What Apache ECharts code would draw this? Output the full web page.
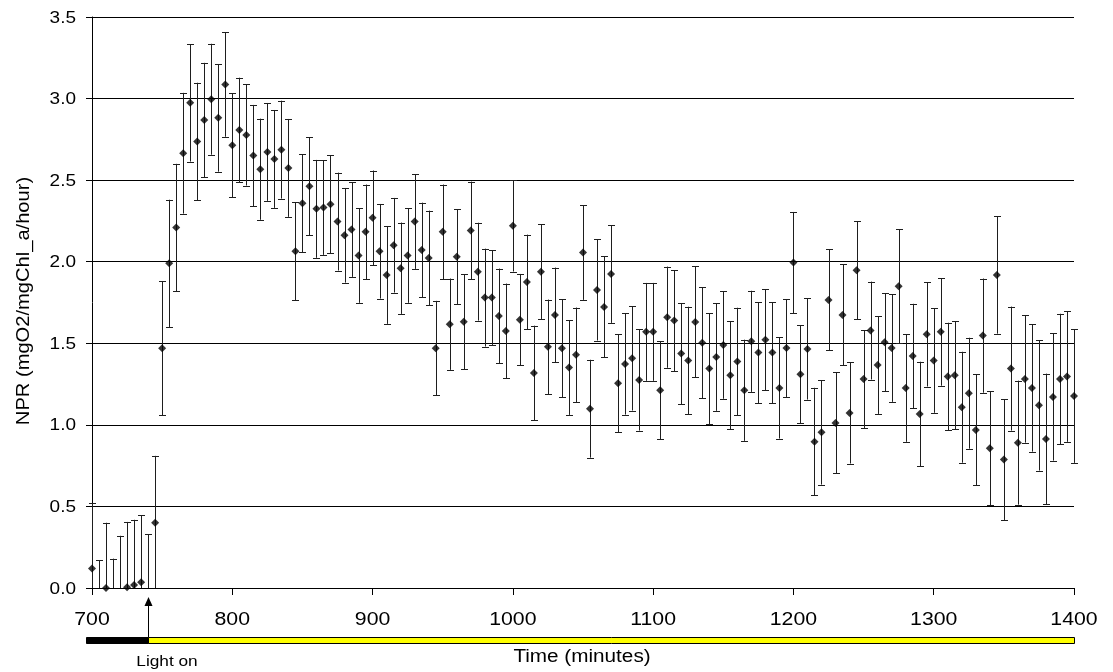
<!DOCTYPE html>
<html>
<head>
<meta charset="utf-8">
<title>NPR over time</title>
<script src="https://cdn.jsdelivr.net/npm/echarts@6/dist/echarts.min.js"></script>
<style>
  html, body { margin: 0; padding: 0; background: #fff; }
  #chart { width: 1113px; height: 672px; }
</style>
</head>
<body>
<div id="chart"></div>
<script>
// Sampling times (minutes), every 5 minutes
const minutes = [
  700, 705, 710, 715, 720, 725, 730, 735, 740, 745,
  750, 755, 760, 765, 770, 775, 780, 785, 790, 795,
  800, 805, 810, 815, 820, 825, 830, 835, 840, 845,
  850, 855, 860, 865, 870, 875, 880, 885, 890, 895,
  900, 905, 910, 915, 920, 925, 930, 935, 940, 945,
  950, 955, 960, 965, 970, 975, 980, 985, 990, 995,
  1000, 1005, 1010, 1015, 1020, 1025, 1030, 1035, 1040, 1045,
  1050, 1055, 1060, 1065, 1070, 1075, 1080, 1085, 1090, 1095,
  1100, 1105, 1110, 1115, 1120, 1125, 1130, 1135, 1140, 1145,
  1150, 1155, 1160, 1165, 1170, 1175, 1180, 1185, 1190, 1195,
  1200, 1205, 1210, 1215, 1220, 1225, 1230, 1235, 1240, 1245,
  1250, 1255, 1260, 1265, 1270, 1275, 1280, 1285, 1290, 1295,
  1300, 1305, 1310, 1315, 1320, 1325, 1330, 1335, 1340, 1345,
  1350, 1355, 1360, 1365, 1370, 1375, 1380, 1385, 1390, 1395,
  1400
];

// Net production rate (mgO2/mgChl_a/hour)
const npr = [
  0.12, -0.22, 0.00, -0.20, -0.08, 0.005, 0.018, 0.035, -0.07, 0.40,
  1.47, 1.99, 2.21, 2.665, 2.974, 2.737, 2.869, 2.996, 2.882, 3.086,
  2.714, 2.808, 2.777, 2.651, 2.567, 2.673, 2.630, 2.687, 2.575, 2.064,
  2.359, 2.463, 2.324, 2.332, 2.352, 2.246, 2.162, 2.197, 2.038, 2.183,
  2.269, 2.064, 1.919, 2.101, 1.960, 2.038, 2.246, 2.072, 2.023, 1.470,
  2.183, 1.617, 2.031, 1.632, 2.191, 1.939, 1.780, 1.780, 1.668, 1.576,
  2.220, 1.645, 1.876, 1.318, 1.939, 1.478, 1.674, 1.470, 1.351, 1.429,
  2.056, 1.099, 1.827, 1.723, 1.925, 1.255, 1.373, 1.408, 1.275, 1.570,
  1.570, 1.212, 1.660, 1.639, 1.437, 1.394, 1.631, 1.504, 1.345, 1.416,
  1.490, 1.304, 1.388, 1.212, 1.512, 1.443, 1.521, 1.443, 1.226, 1.471,
  1.995, 1.310, 1.465, 0.897, 0.954, 1.766, 1.012, 1.674, 1.073, 1.948,
  1.281, 1.578, 1.367, 1.506, 1.471, 1.850, 1.226, 1.422, 1.067, 1.555,
  1.394, 1.570, 1.296, 1.304, 1.108, 1.194, 0.969, 1.547, 0.856, 1.919,
  0.787, 1.345, 0.891, 1.281, 1.226, 1.120, 0.914, 1.171, 1.281, 1.296,
  1.177
];

// Error (+/-) for each measurement
const nprErr = [
  0.40, 0.39, 0.40, 0.38, 0.40, 0.40, 0.40, 0.41, 0.40, 0.41,
  0.41, 0.39, 0.39, 0.37, 0.36, 0.36, 0.35, 0.34, 0.33, 0.32,
  0.32, 0.32, 0.31, 0.31, 0.31, 0.30, 0.30, 0.30, 0.30, 0.30,
  0.30, 0.30, 0.30, 0.29, 0.30, 0.30, 0.29, 0.29, 0.29, 0.29,
  0.29, 0.29, 0.30, 0.29, 0.28, 0.29, 0.29, 0.29, 0.29, 0.29,
  0.29, 0.28, 0.29, 0.29, 0.30, 0.30, 0.30, 0.29, 0.29, 0.29,
  0.28, 0.28, 0.29, 0.29, 0.29, 0.29, 0.29, 0.30, 0.29, 0.29,
  0.29, 0.30, 0.31, 0.31, 0.30, 0.30, 0.31, 0.32, 0.31, 0.30,
  0.30, 0.30, 0.31, 0.31, 0.31, 0.33, 0.34, 0.34, 0.34, 0.33,
  0.33, 0.33, 0.33, 0.31, 0.31, 0.31, 0.31, 0.31, 0.31, 0.30,
  0.31, 0.30, 0.31, 0.33, 0.32, 0.31, 0.31, 0.31, 0.31, 0.30,
  0.30, 0.30, 0.30, 0.30, 0.33, 0.35, 0.33, 0.32, 0.32, 0.32,
  0.32, 0.33, 0.33, 0.33, 0.34, 0.34, 0.34, 0.35, 0.35, 0.36,
  0.37, 0.38, 0.38, 0.39, 0.39, 0.40, 0.40, 0.39, 0.40, 0.40,
  0.41
];

// Axis ticks and their labels
const xTickValues = [700, 800, 900, 1000, 1100, 1200, 1300, 1400];
const xTickLabels = ['700', '800', '900', '1000', '1100', '1200', '1300', '1400'];
const yTickValues = [0, 0.5, 1, 1.5, 2, 2.5, 3, 3.5];
const yTickLabels = ['0.0', '0.5', '1.0', '1.5', '2.0', '2.5', '3.0', '3.5'];
const xAxisTitle = 'Time (minutes)';
const yAxisTitle = 'NPR (mgO2/mgChl_a/hour)';

// Light regime along the time axis (the dark period began before the plotted window)
const phaseNames = ['dark', 'light'];
const phaseStart = [696, 740];
const phaseEnd = [740, 1400];
const lightOnTime = 740;
const lightOnLabel = 'Light on';

const FONT = '"Liberation Sans", Arial, sans-serif';
const WIDE = 1.15;          // horizontal stretch of the lettering
const phaseFill = { dark: '#000000', light: '#ffff00' };

const points = minutes.map((t, i) => [t, npr[i], nprErr[i]]);
const phases = phaseNames.map((n, i) => [phaseStart[i], phaseEnd[i], i]);

function crisp(v) { return Math.round(v) + 0.5; }

function label(x, y, text, size, align, extra) {
  return Object.assign({
    type: 'text', x: x, y: y, scaleX: WIDE, silent: true,
    style: { x: 0, y: 0, text: text, font: size + 'px ' + FONT, fill: '#000', align: align, verticalAlign: 'middle' }
  }, extra || {});
}

const chart = echarts.init(document.getElementById('chart'), null, { renderer: 'canvas' });

chart.setOption({
  animation: false,
  backgroundColor: '#ffffff',
  grid: [
    { left: 92, right: 39, top: 17, bottom: 84, containLabel: false },
    { left: 92, right: 39, top: 637, height: 6, containLabel: false }
  ],
  xAxis: [
    {
      type: 'value', gridIndex: 0,
      min: 700, max: 1400, interval: 100,
      axisLine: { show: true, onZero: false, lineStyle: { color: '#000', width: 1 } },
      axisTick: { show: true, inside: false, length: 7, lineStyle: { color: '#000' } },
      axisLabel: { show: false },
      splitLine: { show: false }
    },
    { type: 'value', gridIndex: 1, min: 700, max: 1400, show: false }
  ],
  yAxis: [
    {
      type: 'value', gridIndex: 0,
      min: 0, max: 3.5, interval: 0.5,
      axisLine: { show: true, lineStyle: { color: '#000', width: 1 } },
      axisTick: { show: true, inside: false, length: 6, lineStyle: { color: '#000' } },
      axisLabel: { show: false },
      splitLine: { show: true, lineStyle: { color: '#000', width: 1 } }
    },
    { type: 'value', gridIndex: 1, min: 0, max: 1, show: false }
  ],
  graphic: [
    label(582, 657, xAxisTitle, 18, 'center'),
    label(24, 301, yAxisTitle, 17.5, 'center', { rotation: Math.PI / 2 })
  ],
  series: [
    {
      // x tick labels placed through the time scale
      type: 'custom',
      xAxisIndex: 0, yAxisIndex: 0,
      data: xTickValues.map((v, i) => [v, 0, i]),
      silent: true,
      renderItem: function (params, api) {
        const p = api.coord([api.value(0), api.value(1)]);
        return label(p[0], p[1] + 32, xTickLabels[api.value(2)], 18.5, 'center');
      }
    },
    {
      // y tick labels placed through the NPR scale
      type: 'custom',
      xAxisIndex: 0, yAxisIndex: 0,
      data: yTickValues.map((v, i) => [700, v, i]),
      silent: true,
      renderItem: function (params, api) {
        const p = api.coord([api.value(0), api.value(1)]);
        return label(p[0] - 16, p[1] + 1, yTickLabels[api.value(2)], 16.5, 'right');
      }
    },
    {
      // vertical error bars with caps
      type: 'custom',
      xAxisIndex: 0, yAxisIndex: 0,
      data: points,
      encode: { x: 0, y: 1 },
      z: 3,
      renderItem: function (params, api) {
        const t = api.value(0), v = api.value(1), e = api.value(2);
        const hi = api.coord([t, v + e]);
        const lo = api.coord([t, v - e]);
        const cs = params.coordSys;
        const top = cs.y, bottom = cs.y + cs.height;
        const x = crisp(hi[0]);
        const style = { stroke: '#1e1e1e', lineWidth: 1 };
        const children = [];
        const y1 = Math.max(hi[1], top), y2 = Math.min(lo[1], bottom);
        if (y1 < y2) {
          children.push({ type: 'line', shape: { x1: x, y1: y1, x2: x, y2: y2 }, style: style });
        }
        [hi[1], lo[1]].forEach(function (yc) {
          if (yc >= top - 0.5 && yc <= bottom + 0.5) {
            const yy = crisp(yc);
            children.push({ type: 'line', shape: { x1: x - 3.5, y1: yy, x2: x + 3.5, y2: yy }, style: style });
          }
        });
        return { type: 'group', children: children };
      }
    },
    {
      type: 'scatter',
      xAxisIndex: 0, yAxisIndex: 0,
      data: points.map(p => [p[0], p[1]]),
      symbol: 'diamond',
      symbolSize: 8,
      clip: true,
      z: 4,
      itemStyle: { color: '#000' }
    },
    {
      // dark / light bar below the time axis
      type: 'custom',
      xAxisIndex: 1, yAxisIndex: 1,
      data: phases,
      z: 2,
      renderItem: function (params, api) {
        const a = api.coord([api.value(0), 1]);
        const b = api.coord([api.value(1), 0]);
        const name = phaseNames[api.value(2)];
        return {
          type: 'rect',
          shape: { x: Math.round(a[0]) + 0.5, y: Math.round(a[1]) + 0.5, width: Math.round(b[0] - a[0]), height: Math.round(b[1] - a[1]) },
          style: { fill: phaseFill[name], stroke: '#000', lineWidth: 1 }
        };
      }
    },
    {
      // arrow and caption marking the moment the light is switched on
      type: 'custom',
      xAxisIndex: 1, yAxisIndex: 1,
      data: [[lightOnTime]],
      z: 5,
      renderItem: function (params, api) {
        const p = api.coord([api.value(0), 1]);
        const base = api.coord([api.value(0), 0]);
        const x = crisp(p[0]);
        const tipY = p[1] - 40;
        return {
          type: 'group',
          children: [
            { type: 'line', shape: { x1: x, y1: p[1], x2: x, y2: tipY + 6 }, style: { stroke: '#000', lineWidth: 1 } },
            { type: 'polygon', shape: { points: [[x, tipY], [x - 4, tipY + 9], [x + 4, tipY + 9]] }, style: { fill: '#000' } },
            label(x + 18.5, base[1] + 19, lightOnLabel, 15, 'center')
          ]
        };
      }
    }
  ]
});
</script>
</body>
</html>
